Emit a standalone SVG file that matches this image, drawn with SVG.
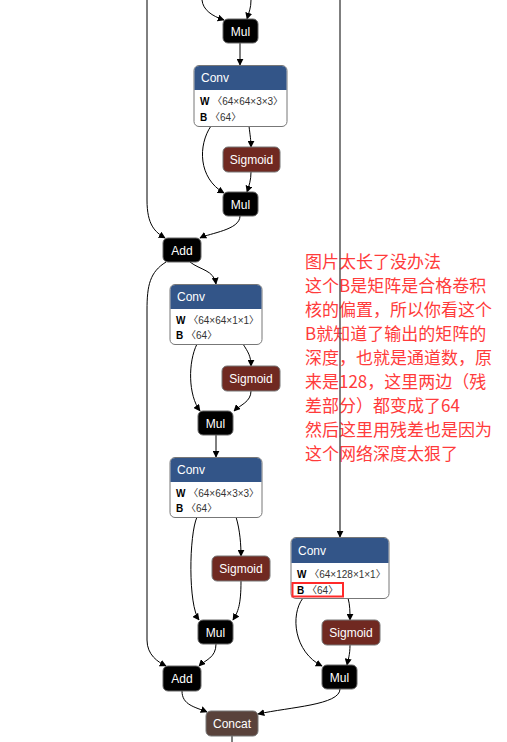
<svg xmlns="http://www.w3.org/2000/svg" width="507" height="742" viewBox="0 0 507 742">
<defs>
<marker id="ah" viewBox="0 0 10 10" refX="9" refY="5" markerWidth="7" markerHeight="7" markerUnits="userSpaceOnUse" orient="auto">
<path d="M0,0 L10,5 L0,10 Z" fill="#000"/>
</marker>
<style>
.e{fill:none;stroke:#000;stroke-width:1;}
.ea{fill:none;stroke:#000;stroke-width:1;marker-end:url(#ah);}
.blk{fill:#000;stroke:#666;stroke-width:1;}
.sig{fill:#702921;stroke:#777;stroke-width:1;}
.cat{fill:#59423b;stroke:#777;stroke-width:1;}
.body{fill:#fff;stroke:#777;stroke-width:1;}
.hdr{fill:#335588;}
.lbl{font-family:"Liberation Sans",Arial,sans-serif;font-size:12px;fill:#fff;}
.mid{text-anchor:middle;}
.att{font-family:"Liberation Sans","Noto Sans CJK SC",sans-serif;font-size:10px;fill:#333;}
.attb{font-weight:bold;fill:#000;}
.note{font-family:"Noto Sans CJK SC","Liberation Sans",sans-serif;font-size:17px;fill:#ff3b3b;}
</style>
</defs>
<rect width="507" height="742" fill="#fff"/>

<g id="note">
<text class="note" x="305" y="268">图片太长了没办法</text>
<text class="note" x="305" y="292">这个B是矩阵是合格卷积</text>
<text class="note" x="305" y="316">核的偏置，所以你看这个</text>
<text class="note" x="305" y="340">B就知道了输出的矩阵的</text>
<text class="note" x="305" y="364">深度，也就是通道数，原</text>
<text class="note" x="305" y="388">来是128，这里两边（残</text>
<text class="note" x="305" y="412">差部分）都变成了64</text>
<text class="note" x="305" y="436">然后这里用残差也是因为</text>
<text class="note" x="305" y="460">这个网络深度太狠了</text>
</g>

<g id="connectors">
<path class="ea" d="M202,0 C203,10 212,16 224,20"/>
<path class="ea" d="M251,0 C251,8 249,12 247,19"/>
<path class="ea" d="M240,43 V65"/>
<path class="ea" d="M249,126 C250,135 251,140 251,147"/>
<path class="ea" d="M211,126 C198,145 198,178 224,193"/>
<path class="ea" d="M251,172 C251,180 249,186 247,192"/>
<path class="ea" d="M147,0 V200 C147,225 155,232 165,238"/>
<path class="ea" d="M240,216 C240,230 210,233 200,238"/>
<path class="ea" d="M340,0 V537" style="stroke:#555;stroke-width:1.5"/>
<path class="ea" d="M190,262 C200,270 214,270 216,284"/>
<path class="ea" d="M166,262 C150,272 147,285 147,310 V640 C147,655 158,662 166,666"/>
<path class="ea" d="M243,344 C248,352 251,356 251,366"/>
<path class="ea" d="M197,344 C188,362 188,395 200,411"/>
<path class="ea" d="M251,391 C251,402 240,405 234,411"/>
<path class="ea" d="M216,435 V457"/>
<path class="ea" d="M236,517 C240,530 241,545 241,556"/>
<path class="ea" d="M197,517 C189,535 188,605 199,620"/>
<path class="ea" d="M241,581 C241,605 238,612 233,620"/>
<path class="ea" d="M216,644 C216,658 205,660 199,666"/>
<path class="ea" d="M182,691 C182,705 195,707 207,712"/>
<path class="ea" d="M340,689 C340,705 290,707 258,714"/>
<path class="e" d="M232,736 V742"/>
<path class="ea" d="M348,598 C350,605 350,612 350,620"/>
<path class="ea" d="M303,598 C290,615 294,652 322,666"/>
<path class="ea" d="M350,645 C350,655 348,660 347,665"/>
</g>

<g id="mul1">
<rect class="blk" x="223" y="19" width="35" height="24" rx="5"/>
<text class="lbl mid" x="240.5" y="35.5">Mul</text>
</g>

<g id="conv1">
<rect class="body" x="194" y="65.5" width="93" height="61" rx="5"/>
<path class="hdr" d="M194.5,90 V71 Q194.5,66 199.5,66 H281.5 Q286.5,66 286.5,71 V90 Z"/>
<text class="lbl" x="201" y="82">Conv</text>
<text class="att" x="200" y="105"><tspan class="attb">W</tspan> 〈64×64×3×3〉</text>
<text class="att" x="200" y="121"><tspan class="attb">B</tspan> 〈64〉</text>
</g>

<g id="sigmoid1">
<rect class="sig" x="223" y="147" width="57" height="25" rx="5"/>
<text class="lbl mid" x="251.5" y="164">Sigmoid</text>
</g>

<g id="mul2">
<rect class="blk" x="223" y="192" width="35" height="24" rx="5"/>
<text class="lbl mid" x="240.5" y="208.5">Mul</text>
</g>

<g id="add1">
<rect class="blk" x="163" y="238" width="38" height="24" rx="5"/>
<text class="lbl mid" x="182" y="254.5">Add</text>
</g>

<g id="conv2">
<rect class="body" x="170" y="284.5" width="92" height="60" rx="5"/>
<path class="hdr" d="M170.5,309 V290 Q170.5,285 175.5,285 H256.5 Q261.5,285 261.5,290 V309 Z"/>
<text class="lbl" x="177" y="301">Conv</text>
<text class="att" x="176" y="324"><tspan class="attb">W</tspan> 〈64×64×1×1〉</text>
<text class="att" x="176" y="339"><tspan class="attb">B</tspan> 〈64〉</text>
</g>

<g id="sigmoid2">
<rect class="sig" x="222" y="366" width="58" height="25" rx="5"/>
<text class="lbl mid" x="251" y="383">Sigmoid</text>
</g>

<g id="mul3">
<rect class="blk" x="198" y="411" width="35" height="24" rx="5"/>
<text class="lbl mid" x="215.5" y="427.5">Mul</text>
</g>

<g id="conv3">
<rect class="body" x="170" y="457.5" width="92" height="60" rx="5"/>
<path class="hdr" d="M170.5,482 V463 Q170.5,458 175.5,458 H256.5 Q261.5,458 261.5,463 V482 Z"/>
<text class="lbl" x="177" y="474">Conv</text>
<text class="att" x="176" y="497"><tspan class="attb">W</tspan> 〈64×64×3×3〉</text>
<text class="att" x="176" y="512"><tspan class="attb">B</tspan> 〈64〉</text>
</g>

<g id="sigmoid3">
<rect class="sig" x="212" y="556" width="58" height="25" rx="5"/>
<text class="lbl mid" x="241" y="573">Sigmoid</text>
</g>

<g id="mul4">
<rect class="blk" x="198" y="620" width="35" height="24" rx="5"/>
<text class="lbl mid" x="215.5" y="636.5">Mul</text>
</g>

<g id="add2">
<rect class="blk" x="163" y="666" width="38" height="25" rx="5"/>
<text class="lbl mid" x="182" y="682.5">Add</text>
</g>

<g id="conv4">
<rect class="body" x="291" y="537.5" width="98" height="61" rx="5"/>
<path class="hdr" d="M291.5,563 V543 Q291.5,538 296.5,538 H383.5 Q388.5,538 388.5,543 V563 Z"/>
<text class="lbl" x="298" y="555">Conv</text>
<text class="att" x="297" y="578"><tspan class="attb">W</tspan> 〈64×128×1×1〉</text>
<text class="att" x="297" y="594"><tspan class="attb">B</tspan> 〈64〉</text>
<rect x="292.5" y="583" width="50.5" height="13.5" fill="none" stroke="#ff2a2a" stroke-width="2"/>
</g>

<g id="sigmoid4">
<rect class="sig" x="322" y="620" width="58" height="25" rx="5"/>
<text class="lbl mid" x="351" y="637">Sigmoid</text>
</g>

<g id="mul5">
<rect class="blk" x="322" y="665" width="35" height="24" rx="5"/>
<text class="lbl mid" x="339.5" y="681.5">Mul</text>
</g>

<g id="concat">
<rect class="cat" x="206" y="711" width="52" height="25" rx="5"/>
<text class="lbl mid" x="232" y="728">Concat</text>
</g>
</svg>
